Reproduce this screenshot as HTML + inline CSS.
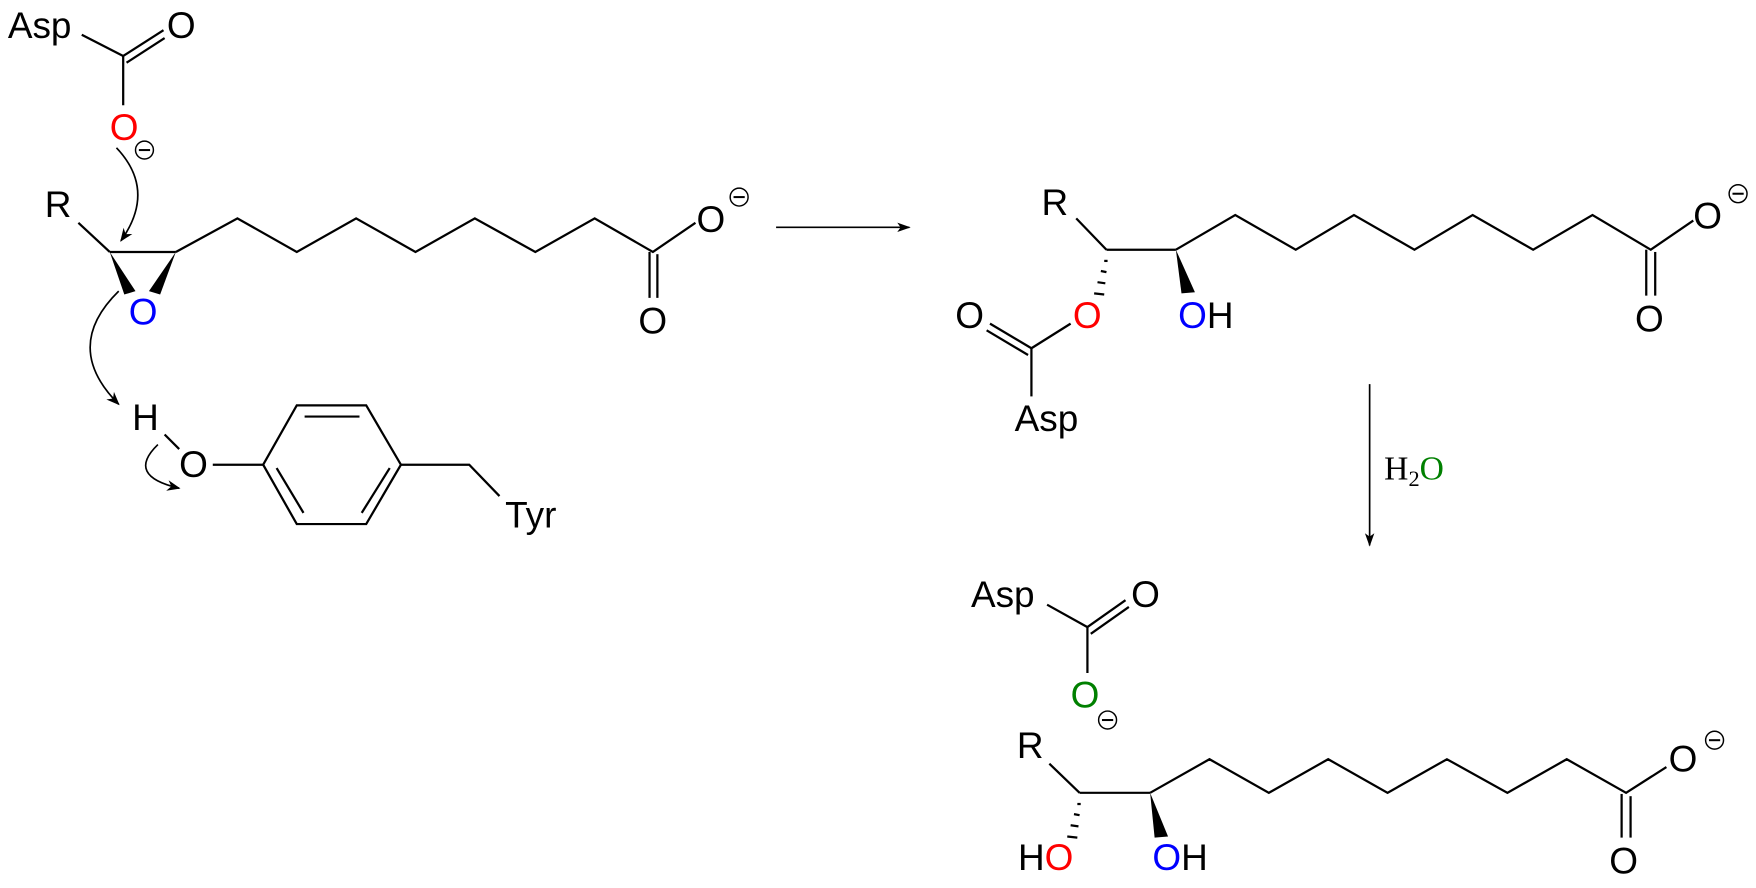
<!DOCTYPE html>
<html><head><meta charset="utf-8"><style>html,body{margin:0;padding:0;background:#fff;overflow:hidden}svg{display:block}</style></head>
<body>
<svg width="1756" height="888" viewBox="0 0 1568 793" preserveAspectRatio="none" xmlns="http://www.w3.org/2000/svg">
<defs>
<marker id="ah" viewBox="0 0 10 10" refX="9" refY="5" markerWidth="13" markerHeight="12" orient="auto" markerUnits="userSpaceOnUse"><path d="M0,1 L10,5 L0,9 L3,5 Z" fill="#000"/></marker>
<marker id="ah2" viewBox="0 0 10 10" refX="9" refY="5" markerWidth="17" markerHeight="12" orient="auto" markerUnits="userSpaceOnUse"><path d="M0,1.5 L10,5 L0,8.5 L2.5,5 Z" fill="#000"/></marker>
<g id="m"><circle r="8" fill="none" stroke="#000" stroke-width="1.3"/><line x1="-5" y1="0" x2="5" y2="0" stroke="#000" stroke-width="1.8"/></g>
</defs>
<g font-family="Liberation Sans, Arial, sans-serif" font-size="33" fill="#000">
<!-- LEFT -->
<text x="7" y="34">Asp</text>
<text x="149" y="34">O</text>
<text x="98" y="125" fill="#ff0000">O</text>
<text x="40" y="194">R</text>
<text x="115" y="290" fill="#0000ff">O</text>
<text x="622" y="207">O</text>
<text x="570" y="298">O</text>
<text x="118" y="384">H</text>
<text x="160" y="426">O</text>
<text x="451" y="471">Tyr</text>
<!-- RIGHT TOP -->
<text x="930" y="192">R</text>
<text x="958" y="293" fill="#ff0000">O</text>
<text x="853" y="293">O</text>
<text x="906" y="385">Asp</text>
<text x="1052" y="293"><tspan fill="#0000ff">O</tspan>H</text>
<text x="1512" y="204">O</text>
<text x="1460" y="296">O</text>
<!-- RIGHT BOTTOM -->
<text x="867" y="542">Asp</text>
<text x="1010" y="542">O</text>
<text x="956" y="632" fill="#008000">O</text>
<text x="908" y="677">R</text>
<text x="909" y="777">H<tspan fill="#ff0000">O</tspan></text>
<text x="1029" y="777"><tspan fill="#0000ff">O</tspan>H</text>
<text x="1490" y="689">O</text>
<text x="1437" y="780">O</text>
</g>
<text x="1236" y="428" font-family="Liberation Serif, serif" font-size="30">H<tspan font-size="20" dy="6">2</tspan><tspan dy="-6" fill="#008000">O</tspan></text>
<use href="#m" x="129" y="134"/>
<use href="#m" x="660" y="176"/>
<use href="#m" x="1552" y="173"/>
<use href="#m" x="989" y="643"/>
<use href="#m" x="1531" y="661"/>
<g stroke="#000" stroke-width="2" fill="none" stroke-linejoin="miter">
<line x1="73" y1="31" x2="110" y2="50"/>
<line x1="110" y1="50" x2="146" y2="27"/>
<line x1="113" y1="56" x2="147" y2="34"/>
<line x1="110" y1="50" x2="110" y2="94"/>
<line x1="70" y1="199" x2="98" y2="225"/>
<line x1="98" y1="225" x2="157" y2="225"/>
<polyline points="157,225 212,195 265,225 318,195 371,225 424,195 478,225 531,195 583,225 621,199"/>
<line x1="580" y1="225" x2="580" y2="266"/>
<line x1="587" y1="227" x2="587" y2="266"/>
<line x1="147" y1="388" x2="160" y2="401"/>
<line x1="190" y1="415" x2="235" y2="415"/>
<polygon points="235,415 265,362 327,362 358,415 327,468 265,468"/>
<line x1="272" y1="372" x2="321" y2="372"/>
<line x1="247" y1="418" x2="271" y2="458"/>
<line x1="348" y1="418" x2="323" y2="458"/>
<polyline points="358,415 419,415 446,443"/>
<line x1="961" y1="195" x2="988" y2="223"/>
<line x1="988" y1="223" x2="1050" y2="223"/>
<polyline points="1050,223 1103,192 1157,223 1209,192 1263,223 1315,192 1369,223 1422,192 1474,223 1512,197"/>
<line x1="1470" y1="223" x2="1470" y2="264"/>
<line x1="1478" y1="225" x2="1478" y2="264"/>
<line x1="956" y1="289" x2="921" y2="311"/>
<line x1="921" y1="311" x2="884" y2="289"/>
<line x1="918" y1="317" x2="881" y2="295"/>
<line x1="921" y1="311" x2="921" y2="354"/>
<line x1="935" y1="540" x2="971" y2="560"/>
<line x1="971" y1="560" x2="1005" y2="536"/>
<line x1="974" y1="566" x2="1008" y2="542"/>
<line x1="971" y1="560" x2="971" y2="601"/>
<line x1="937" y1="682" x2="964" y2="708"/>
<line x1="964" y1="708" x2="1027" y2="708"/>
<polyline points="1027,708 1080,678 1133,708 1186,678 1239,708 1292,678 1346,708 1399,678 1452,708 1488,685"/>
<line x1="1448" y1="709" x2="1448" y2="748"/>
<line x1="1456" y1="711" x2="1456" y2="748"/>
</g>
<g fill="#000">
<polygon points="98,225 111,263 121,260"/>
<polygon points="157,225 133,260 143,263"/>
<polygon points="1050,223 1055,262 1067,261"/>
<polygon points="1027,708 1031,748 1043,747"/>
</g>
<g stroke="#000" stroke-width="2">
<line x1="986" y1="233" x2="989" y2="233"/>
<line x1="983" y1="242" x2="988" y2="243"/>
<line x1="980" y1="252" x2="987" y2="253"/>
<line x1="977" y1="262" x2="986" y2="263"/>
<line x1="962" y1="718" x2="965" y2="718"/>
<line x1="959" y1="727" x2="964" y2="728"/>
<line x1="956" y1="737" x2="963" y2="738"/>
<line x1="953" y1="747" x2="962" y2="748"/>
</g>
<g stroke="#000" stroke-width="1.5" fill="none">
<path d="M104,132 Q140,170 108,215" marker-end="url(#ah)"/>
<path d="M106,260 Q55,310 106,361" marker-end="url(#ah)"/>
<path d="M141,397 Q112,425 160,436" marker-end="url(#ah)"/>
<line x1="693" y1="203" x2="812" y2="203" marker-end="url(#ah2)"/>
<line x1="1223" y1="343" x2="1223" y2="487" marker-end="url(#ah2)"/>
</g>
</svg>
</body></html>
